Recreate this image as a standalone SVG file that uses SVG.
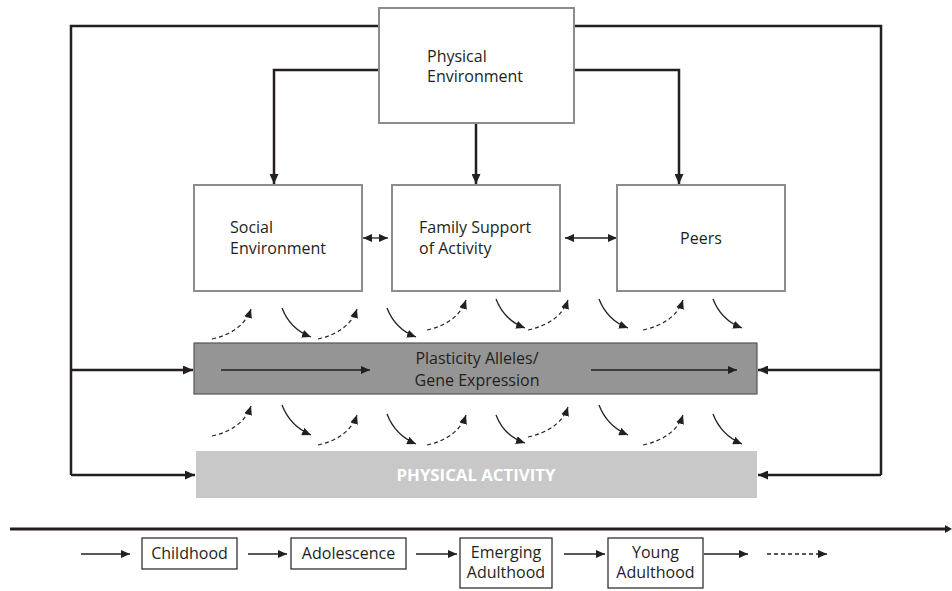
<svg xmlns="http://www.w3.org/2000/svg" width="952" height="591" viewBox="0 0 952 591">
<defs>
<marker id="ah" markerUnits="userSpaceOnUse" markerWidth="10" markerHeight="9" refX="10" refY="4.5" orient="auto"><path d="M0,0 L10,4.5 L0,9 z" fill="#231f20"/></marker>
<marker id="am" markerUnits="userSpaceOnUse" markerWidth="9" markerHeight="8" refX="9" refY="4" orient="auto"><path d="M0,0 L9,4 L0,8 z" fill="#231f20"/></marker>
<marker id="ams" markerUnits="userSpaceOnUse" markerWidth="9" markerHeight="8" refX="0" refY="4" orient="auto"><path d="M9,0 L0,4 L9,8 z" fill="#231f20"/></marker>
</defs>
<style>
.box{fill:#fff;stroke:#8c8c8c;stroke-width:2}
.sbox{fill:#fff;stroke:#231f20;stroke-width:1.2}
.t{font-family:"Open Sans","Liberation Sans",sans-serif;font-size:16px;fill:#231f20}
.c{stroke:#231f20;stroke-width:2.5;fill:none}
.thin{stroke:#231f20;stroke-width:1.3;fill:none}
.dash{stroke:#231f20;stroke-width:1.2;fill:none;stroke-dasharray:4,3}
.sol{stroke:#231f20;stroke-width:1.3;fill:none}
</style>
<rect width="952" height="591" fill="#fff"/>

<g id="connectors">
<path class="c" d="M379,26 H71 V475"/>
<path class="c" d="M574,26 H881 V475"/>
<path class="c" d="M71,370 H193" marker-end="url(#ah)"/>
<path class="c" d="M71,475 H195" marker-end="url(#ah)"/>
<path class="c" d="M881,370 H758" marker-end="url(#ah)"/>
<path class="c" d="M881,475 H758" marker-end="url(#ah)"/>
<path class="c" d="M379,70 H274 V184" marker-end="url(#ah)"/>
<path class="c" d="M476,123 V184" marker-end="url(#ah)"/>
<path class="c" d="M574,70 H679 V184" marker-end="url(#ah)"/>
<path class="thin" d="M363,238 H388" marker-start="url(#ams)" marker-end="url(#am)"/>
<path class="thin" d="M565,238 H617" marker-start="url(#ams)" marker-end="url(#am)"/>
<path class="dash" d="M212,339 Q243,332 251,309" marker-end="url(#am)"/>
<path class="sol" d="M282,308 Q290,329 311,337" marker-end="url(#am)"/>
<path class="dash" d="M318,339 Q349,332 357,309" marker-end="url(#am)"/>
<path class="sol" d="M387,308 Q395,329 416,337" marker-end="url(#am)"/>
<path class="dash" d="M427,330 Q458,323 466,300" marker-end="url(#am)"/>
<path class="sol" d="M496,299 Q504,320 525,328" marker-end="url(#am)"/>
<path class="dash" d="M528,330 Q560,323 568,300" marker-end="url(#am)"/>
<path class="sol" d="M599,299 Q607,320 628,328" marker-end="url(#am)"/>
<path class="dash" d="M643,330 Q675,323 683,300" marker-end="url(#am)"/>
<path class="sol" d="M713,299 Q721,320 742,328" marker-end="url(#am)"/>
<path class="dash" d="M212,436 Q243,429 251,406" marker-end="url(#am)"/>
<path class="sol" d="M282,405 Q290,426 311,435" marker-end="url(#am)"/>
<path class="dash" d="M318,445 Q349,438 357,415" marker-end="url(#am)"/>
<path class="sol" d="M387,414 Q395,435 416,444" marker-end="url(#am)"/>
<path class="dash" d="M427,445 Q458,438 466,415" marker-end="url(#am)"/>
<path class="sol" d="M496,415 Q504,436 525,443" marker-end="url(#am)"/>
<path class="dash" d="M528,437 Q560,430 568,407" marker-end="url(#am)"/>
<path class="sol" d="M599,405 Q607,426 628,435" marker-end="url(#am)"/>
<path class="dash" d="M643,445 Q675,438 683,415" marker-end="url(#am)"/>
<path class="sol" d="M713,414 Q721,435 742,444" marker-end="url(#am)"/>
</g>

<g id="physical-environment">
<rect class="box" x="379" y="8" width="195" height="115"/>
<text class="t" x="427" y="62">Physical</text>
<text class="t" x="427" y="82">Environment</text>
</g>
<g id="social-environment">
<rect class="box" x="194" y="185" width="168" height="106"/>
<text class="t" x="230" y="233">Social</text>
<text class="t" x="230" y="254">Environment</text>
</g>
<g id="family-support">
<rect class="box" x="392" y="185" width="168" height="106"/>
<text class="t" x="419" y="233">Family Support</text>
<text class="t" x="419" y="254">of Activity</text>
</g>
<g id="peers">
<rect class="box" x="617" y="185" width="168" height="106"/>
<text class="t" x="701" y="244" text-anchor="middle">Peers</text>
</g>

<g id="gene-expression">
<rect x="194" y="343" width="563" height="51" fill="#959595" stroke="#555" stroke-width="1.2"/>
<path class="thin" d="M221,370 H370" marker-end="url(#am)"/>
<path class="thin" d="M591,370 H737" marker-end="url(#am)"/>
<text class="t" x="477" y="364" text-anchor="middle" fill="#333">Plasticity Alleles/</text>
<text class="t" x="477" y="386" text-anchor="middle" fill="#333">Gene Expression</text>
</g>

<g id="physical-activity">
<rect x="196" y="451" width="561" height="47" fill="#c8c8c8"/>
<text x="476" y="481" text-anchor="middle" font-family="'Open Sans','Liberation Sans',sans-serif" font-size="16.8" font-weight="bold" fill="#fff">PHYSICAL ACTIVITY</text>
</g>

<g id="timeline">
<path d="M10,529 H946" stroke="#231f20" stroke-width="3" fill="none"/>
<path d="M945,525 L952,529 L945,533 z" fill="#231f20"/>
<path class="thin" d="M81,554 H130" marker-end="url(#am)"/>
<path class="thin" d="M248,554 H287" marker-end="url(#am)"/>
<path class="thin" d="M416,554 H457" marker-end="url(#am)"/>
<path class="thin" d="M564,554 H605" marker-end="url(#am)"/>
<path class="thin" d="M704,554 H748" marker-end="url(#am)"/>
<path class="thin" d="M767,554 H827" stroke-dasharray="4,3" marker-end="url(#am)"/>
</g>
<g id="childhood">
<rect class="sbox" x="142" y="538" width="95" height="31"/>
<text class="t" x="189.5" y="559" text-anchor="middle">Childhood</text>
</g>
<g id="adolescence">
<rect class="sbox" x="291" y="538" width="115" height="31"/>
<text class="t" x="348.5" y="559" text-anchor="middle">Adolescence</text>
</g>
<g id="emerging-adulthood">
<rect class="sbox" x="460" y="538" width="92" height="50"/>
<text class="t" x="506" y="558" text-anchor="middle">Emerging</text>
<text class="t" x="506" y="578" text-anchor="middle">Adulthood</text>
</g>
<g id="young-adulthood">
<rect class="sbox" x="608" y="538" width="95" height="50"/>
<text class="t" x="655.5" y="558" text-anchor="middle">Young</text>
<text class="t" x="655.5" y="578" text-anchor="middle">Adulthood</text>
</g>
</svg>
